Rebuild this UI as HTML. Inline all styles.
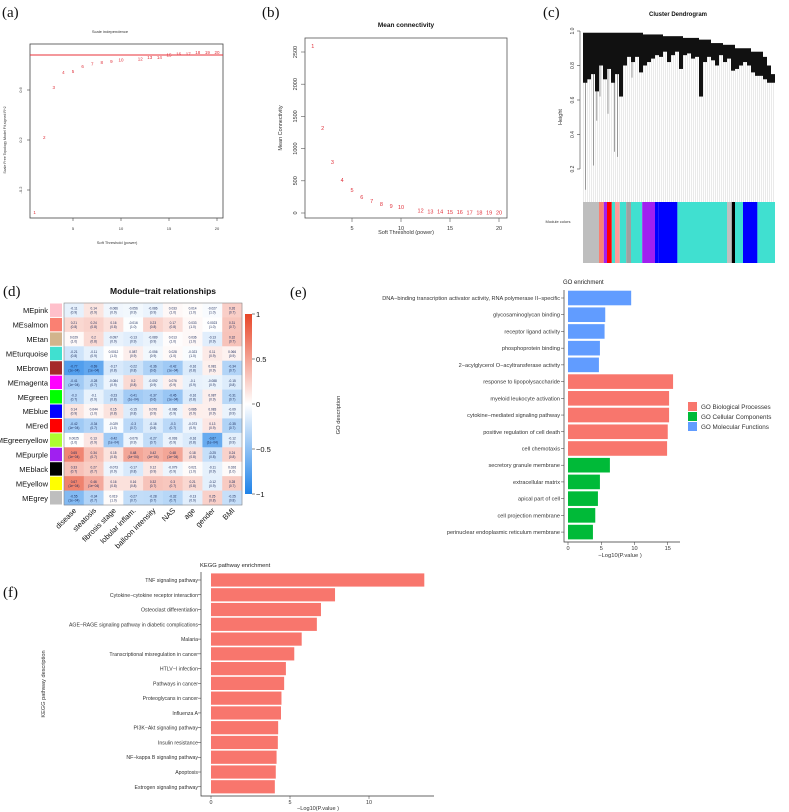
<!DOCTYPE html>
<html><head><meta charset="utf-8">
<style>
html,body{margin:0;padding:0;background:#fff;}
svg{display:block;font-family:"Liberation Sans",sans-serif;}
.lab{font-family:"Liberation Serif",serif;font-size:15px;fill:#111;}
</style></head>
<body>
<svg id="fig" width="789" height="812" viewBox="0 0 789 812" xmlns="http://www.w3.org/2000/svg">
<text class="lab" x="2" y="17">(a)</text>
<text class="lab" x="262" y="17">(b)</text>
<text class="lab" x="543" y="17">(c)</text>
<text class="lab" x="3" y="296">(d)</text>
<text class="lab" x="290" y="297">(e)</text>
<text class="lab" x="3" y="597">(f)</text>
</svg>
<script>
// ---------- data ----------
const aPowers=[1,2,3,4,5,6,7,8,9,10,12,13,14,15,16,17,18,19,20];
const aFit=[-0.38,0.22,0.62,0.74,0.75,0.79,0.81,0.82,0.83,0.84,0.85,0.86,0.86,0.88,0.89,0.89,0.90,0.90,0.90];
const aYTicks=[-0.2,0.2,0.6];
const aXTicks=[5,10,15,20];
const aCut=0.88;
const bPowers=[1,2,3,4,5,6,7,8,9,10,12,13,14,15,16,17,18,19,20];
const bConn=[2590,1320,790,510,355,250,185,140,110,90,35,25,20,15,12,10,8,6,5];
const bYTicks=[0,500,1000,1500,2000,2500];
const bXTicks=[5,10,15,20];
const cTops=[0.99,0.99,0.99,0.99,0.99,0.99,0.99,0.99,0.99,0.99,0.99,0.99,0.99,0.99,0.99,0.98,0.98,0.98,0.98,0.98,0.97,0.97,0.97,0.97,0.97,0.96,0.96,0.96,0.96,0.95,0.95,0.95,0.93,0.93,0.93,0.92,0.92,0.92,0.9,0.9,0.9,0.9,0.88,0.88,0.88,0.85,0.8,0.75];
const cBottoms=[0.7,0.72,0.75,0.65,0.8,0.72,0.78,0.7,0.75,0.62,0.8,0.85,0.82,0.85,0.76,0.8,0.82,0.84,0.86,0.85,0.88,0.82,0.86,0.88,0.78,0.86,0.87,0.84,0.85,0.62,0.82,0.85,0.83,0.8,0.86,0.82,0.84,0.77,0.78,0.8,0.82,0.8,0.76,0.74,0.74,0.72,0.7,0.7];
const cDrops=[0.08,0.7,0.22,0.48,0.62,0.3,0.27,0.52,0.73];
const cDropLeaf=[1,2,6,8,10,19,21,15,30];
const cYTicks=[0.2,0.4,0.6,0.8,1.0];
const cModStart=[0,10,13,15,18,20,23,27,30,37,45,47,59,90,93,95,100,109];
const cModColor=['#bebebe','#fa8072','#a020f0','#ff0000','#40e0d0','#ff9a9a','#40e0d0','#a0a0a0','#40e0d0','#a020f0','#0000ff','#0000ff','#40e0d0','#c0c0c0','#000000','#40e0d0','#0000ff','#40e0d0'];
const dModules=['MEpink','MEsalmon','MEtan','MEturquoise','MEbrown','MEmagenta','MEgreen','MEblue','MEred','MEgreenyellow','MEpurple','MEblack','MEyellow','MEgrey'];
const dModColors=['#ffc0cb','#fa8072','#d2b48c','#40e0d0','#a52a2a','#ff00ff','#00ff00','#0000ff','#ff0000','#adff2f','#a020f0','#000000','#ffff00','#bebebe'];
const dTraits=['disease','steatosis','fibrosis stage','lobular inflam.','balloon intensity','NAS','age','gender','BMI'];
const dCor=[
[-0.11,0.14,-0.066,-0.056,-0.086,0.033,0.014,-0.027,0.26],
[0.21,0.24,0.16,-0.016,0.23,0.17,0.033,0.0023,0.31],
[0.029,0.2,-0.097,-0.13,-0.089,0.013,0.036,-0.13,0.32],
[-0.21,-0.11,0.0012,0.087,-0.056,0.028,-0.023,0.11,0.066],
[-0.77,-0.69,-0.17,-0.22,-0.36,-0.42,-0.16,0.081,-0.34],
[-0.41,-0.28,-0.084,0.2,-0.092,0.076,-0.1,-0.088,-0.15],
[-0.3,-0.1,-0.23,-0.41,-0.37,-0.45,-0.16,0.087,-0.31],
[0.14,0.044,0.15,-0.15,0.076,-0.086,0.086,0.083,-0.09],
[-0.42,-0.34,-0.029,-0.3,-0.16,-0.3,-0.073,0.13,-0.35],
[0.0025,0.13,-0.42,-0.076,-0.27,-0.093,-0.16,-0.67,-0.12],
[0.65,0.34,0.15,0.48,0.42,0.48,0.18,-0.25,0.24],
[0.33,0.27,-0.073,-0.17,0.12,-0.079,0.021,-0.11,0.026],
[0.67,0.46,0.16,0.16,0.32,0.3,0.21,-0.12,0.28],
[-0.55,-0.34,0.019,-0.27,-0.28,-0.32,-0.13,0.25,-0.25]];
const dScaleTicks=[1,0.5,0,-0.5,-1];
const eTerms=['DNA\u2212binding transcription activator activity, RNA polymerase II\u2212specific','glycosaminoglycan binding','receptor ligand activity','phosphoprotein binding','2\u2212acylglycerol O\u2212acyltransferase activity','response to lipopolysaccharide','myeloid leukocyte activation','cytokine\u2212mediated signaling pathway','positive regulation of cell death','cell chemotaxis','secretory granule membrane','extracellular matrix','apical part of cell','cell projection membrane','perinuclear endoplasmic reticulum membrane'];
const eVals=[9.5,5.6,5.5,4.8,4.65,15.8,15.2,15.2,15.0,14.9,6.3,4.8,4.5,4.1,3.75];
const eCats=['MF','MF','MF','MF','MF','BP','BP','BP','BP','BP','CC','CC','CC','CC','CC'];
const eXTicks=[0,5,10,15];
const fTerms=['TNF signaling pathway','Cytokine\u2212cytokine receptor interaction','Osteoclast differentiation','AGE\u2212RAGE signaling pathway in diabetic complications','Malaria','Transcriptional misregulation in cancer','HTLV\u2212I infection','Pathways in cancer','Proteoglycans in cancer','Influenza A','PI3K\u2212Akt signaling pathway','Insulin resistance','NF\u2212kappa B signaling pathway','Apoptosis','Estrogen signaling pathway'];
const fVals=[13.5,7.85,6.96,6.7,5.74,5.27,4.74,4.63,4.46,4.43,4.25,4.23,4.15,4.1,4.04];
const fXTicks=[0,5,10];

// ---------- helpers ----------
const NS='http://www.w3.org/2000/svg';
const svg=document.getElementById('fig');
function mk(tag,attrs,parent){const e=document.createElementNS(NS,tag);for(const k in attrs)e.setAttribute(k,attrs[k]);(parent||svg).appendChild(e);return e;}
function txt(s,attrs,parent){const e=mk('text',attrs,parent);e.textContent=s;return e;}
function grp(){return mk('g',{});}

// ---------- panel a ----------
(function(){
const g=grp();


const X=v=>25+9.6*v, Y=v=>90-(v-0.6)/0.008;
let t=txt('Scale independence',{x:110,y:33,'font-size':4,'text-anchor':'middle',fill:'#333'},g);


let r=mk('rect',{x:30,y:44,width:193,height:174,fill:'none',stroke:'#444','stroke-width':0.8},g);


let l=mk('line',{x1:30,x2:223,y1:Y(aCut),y2:Y(aCut),stroke:'#e8303a','stroke-width':0.9},g);


aYTicks.forEach(v=>{const tk=mk('line',{x1:27,x2:30,y1:Y(v),y2:Y(v),stroke:'#444','stroke-width':0.6},g);


const tl=txt(String(v),{x:22,y:Y(v),'font-size':4,'text-anchor':'middle',fill:'#333',transform:`rotate(-90 22 ${Y(v)})`},g);

});
aXTicks.forEach(v=>{const tk=mk('line',{x1:X(v),x2:X(v),y1:218,y2:221,stroke:'#444','stroke-width':0.6},g);


const tl=txt(String(v),{x:X(v),y:230,'font-size':4,'text-anchor':'middle',fill:'#333'},g);

});
aPowers.forEach((p,i)=>{const pt=txt(String(p),{x:X(p),y:Y(aFit[i])+1.5,'font-size':4.5,'text-anchor':'middle',fill:'#e0303a'},g);

});
t=txt('Soft Threshold (power)',{x:117,y:244,'font-size':4,'text-anchor':'middle',fill:'#333'},g);


t=txt('Scale Free Topology Model Fit,signed R^2',{x:6,y:140,'font-size':3.6,'text-anchor':'middle',fill:'#333',transform:'rotate(-90 6 140)'},g);


})();

// ---------- panel b ----------
(function(){
const g=grp();


const X=v=>303+9.8*v, Y=v=>213-v*0.0644;
let t=txt('Mean connectivity',{x:406,y:27,'font-size':6.5,'font-weight':'bold','text-anchor':'middle',fill:'#111'},g);


let r=mk('rect',{x:305,y:38,width:202,height:180,fill:'none',stroke:'#555','stroke-width':0.8},g);


bYTicks.forEach(v=>{const tk=mk('line',{x1:301,x2:305,y1:Y(v),y2:Y(v),stroke:'#555','stroke-width':0.6},g);


const tl=txt(String(v),{x:297,y:Y(v),'font-size':5.5,'text-anchor':'middle',fill:'#333',transform:`rotate(-90 297 ${Y(v)})`},g);

});
bXTicks.forEach(v=>{const tk=mk('line',{x1:X(v),x2:X(v),y1:218,y2:222,stroke:'#555','stroke-width':0.6},g);


const tl=txt(String(v),{x:X(v),y:230,'font-size':5.5,'text-anchor':'middle',fill:'#333'},g);

});
bPowers.forEach((p,i)=>{const pt=txt(String(p),{x:X(p),y:Y(bConn[i])+2,'font-size':5.5,'text-anchor':'middle',fill:'#e0303a'},g);

});
t=txt('Soft Threshold (power)',{x:406,y:234,'font-size':5.5,'text-anchor':'middle',fill:'#333'},g);


t=txt('Mean Connectivity',{x:282,y:128,'font-size':5.5,'text-anchor':'middle',fill:'#333',transform:'rotate(-90 282 128)'},g);


})();

// ---------- panel c ----------
(function(){
const g=grp();


const Y=h=>31+(1-h)*172.5, L=583, W=4;
let t=txt('Cluster Dendrogram',{x:678,y:16,'font-size':6,'font-weight':'bold','text-anchor':'middle',fill:'#111'},g);


for(let i=0;i<cTops.length;i++){[0.5,2.5].forEach(o=>{const ln=mk('line',{x1:L+i*W+o,x2:L+i*W+o,y1:Y(cBottoms[i]),y2:Y(0),stroke:'#d4d4d4','stroke-width':0.5},g);

});}
cDrops.forEach((h,i)=>{const x=L+cDropLeaf[i]*W/2.5+1;const ln=mk('line',{x1:x,x2:x,y1:Y(0.85),y2:Y(h),stroke:'#777','stroke-width':0.7},g);

});
cTops.forEach((h,i)=>{const rr=mk('rect',{x:L+i*W,y:Y(h),width:W,height:Y(cBottoms[i])-Y(h),fill:'#111'},g);

});
let ax=mk('line',{x1:580,x2:580,y1:Y(1),y2:Y(0.2),stroke:'#444','stroke-width':0.6},g);


cYTicks.forEach(v=>{const tk=mk('line',{x1:577,x2:580,y1:Y(v),y2:Y(v),stroke:'#444','stroke-width':0.6},g);


const tl=txt(v.toFixed(1),{x:574,y:Y(v),'font-size':5,'text-anchor':'middle',fill:'#333',transform:`rotate(-90 574 ${Y(v)})`},g);

});
t=txt('Height',{x:562,y:117,'font-size':5.5,'text-anchor':'middle',fill:'#333',transform:'rotate(-90 562 117)'},g);


const total=192;
cModStart.forEach((s,i)=>{const e=i<cModStart.length-1?cModStart[i+1]:120;const rr=mk('rect',{x:L+s*total/120,y:202,width:(e-s)*total/120,height:61,fill:cModColor[i]},g);

});
t=txt('Module colors',{x:558,y:223,'font-size':4,'text-anchor':'middle',fill:'#333'},g);


})();

// ---------- panel d ----------
(function(){
const g=grp();


const x0=64,y0=303,cw=(242-64)/dTraits.length,ch=(505-303)/dModules.length;
function col(v){const c=Math.max(-1,Math.min(1,v));let r,gg,b;if(c>=0){r=255+(232-255)*c;gg=255+(70-255)*c;b=255+(40-255)*c;}else{const a=-c;r=255+(30-255)*a;gg=255+(130-255)*a;b=255+(232-255)*a;}return `rgb(${r|0},${gg|0},${b|0})`;}
let t=txt('Module\u2212trait relationships',{x:163,y:294,'font-size':8.5,'font-weight':'bold','text-anchor':'middle',fill:'#111'},g);


dModules.forEach((m,i)=>{
const y=y0+i*ch;
const sw=mk('rect',{x:50,y:y+0.5,width:12,height:ch-1,fill:dModColors[i]},g);


const lb=txt(m,{x:48,y:y+ch/2+3,'font-size':7.5,'text-anchor':'end',fill:'#111'},g);


dTraits.forEach((tr,j)=>{const v=dCor[i][j];
const c=mk('rect',{x:x0+j*cw,y:y,width:cw+0.3,height:ch+0.3,fill:col(v)},g);


const tv=txt(String(v),{x:x0+j*cw+cw/2,y:y+ch/2-0.5,'font-size':3.2,'text-anchor':'middle',fill:'#1a2a5a'},g);


const tp=txt('('+(Math.abs(v)>0.4?'1e\u221204':(1-Math.abs(v)).toFixed(1))+')',{x:x0+j*cw+cw/2,y:y+ch/2+3.5,'font-size':3.2,'text-anchor':'middle',fill:'#1a2a5a'},g);

});});
let br=mk('rect',{x:x0,y:y0,width:178,height:202,fill:'none',stroke:'#888','stroke-width':0.6},g);


dTraits.forEach((tr,j)=>{const x=x0+j*cw+cw/2+3;const tl=txt(tr,{x:x,y:511,'font-size':7.5,'text-anchor':'end',fill:'#111',transform:`rotate(-45 ${x} 511)`},g);

});
const SY=v=>404-v*90;
const defs=mk('defs',{},g);
const lg=mk('linearGradient',{id:'cbar',x1:0,y1:0,x2:0,y2:1},defs);
[[0,col(1)],[0.5,col(0)],[1,col(-1)]].forEach(s=>mk('stop',{offset:s[0],'stop-color':s[1]},lg));
let cb=mk('rect',{x:245,y:SY(1),width:7,height:SY(-1)-SY(1),fill:'url(#cbar)'},g);


dScaleTicks.forEach(v=>{const tk=mk('line',{x1:252,x2:255,y1:SY(v),y2:SY(v),stroke:'#333','stroke-width':0.6},g);


const tl=txt(v<0?'\u2212'+Math.abs(v):String(v),{x:256,y:SY(v)+3,'font-size':7.5,fill:'#111'},g);

});
})();

// ---------- panel e ----------
(function(){
const g=grp();


const X=v=>568+6.65*v, Y=i=>298+i*16.72, catColor={BP:'#F8766D',CC:'#00BA38',MF:'#619CFF'};
let t=txt('GO enrichment',{x:563,y:284,'font-size':6,fill:'#222'},g);


eTerms.forEach((s,i)=>{const b=mk('rect',{x:X(0),y:Y(i)-7.3,width:X(eVals[i])-X(0),height:14.6,fill:catColor[eCats[i]]},g);


const tk=mk('line',{x1:561,x2:564,y1:Y(i),y2:Y(i),stroke:'#333','stroke-width':0.5},g);


const lb=txt(s,{x:560,y:Y(i)+2,'font-size':5.6,'text-anchor':'end',fill:'#333'},g);

});
let ax=mk('path',{d:'M564 290 V542 H680',fill:'none',stroke:'#333','stroke-width':0.7},g);


eXTicks.forEach(v=>{const tk=mk('line',{x1:X(v),x2:X(v),y1:542,y2:545,stroke:'#333','stroke-width':0.5},g);


const tl=txt(String(v),{x:X(v),y:550,'font-size':5.6,'text-anchor':'middle',fill:'#333'},g);

});
t=txt('\u2212Log10(P.value )',{x:620,y:557,'font-size':5.8,'text-anchor':'middle',fill:'#333'},g);


t=txt('GO description',{x:340,y:415,'font-size':5.8,'text-anchor':'middle',fill:'#333',transform:'rotate(-90 340 415)'},g);


[['GO Biological Processes','#F8766D'],['GO Cellular Components','#00BA38'],['GO Molecular Functions','#619CFF']].forEach((e,i)=>{
const sq=mk('rect',{x:688,y:402+i*10,width:9,height:9,fill:e[1]},g);


const lt=txt(e[0],{x:701,y:409+i*10,'font-size':6.3,fill:'#333'},g);

});
})();

// ---------- panel f ----------
(function(){
const g=grp();


const X=v=>211+15.8*v, Y=i=>580+i*14.77;
let t=txt('KEGG pathway enrichment',{x:200,y:567,'font-size':5.8,fill:'#222'},g);


fTerms.forEach((s,i)=>{const b=mk('rect',{x:X(0),y:Y(i)-6.6,width:X(fVals[i])-X(0),height:13.2,fill:'#F8766D'},g);


const tk=mk('line',{x1:198,x2:201,y1:Y(i),y2:Y(i),stroke:'#333','stroke-width':0.5},g);


const lb=txt(s,{x:198,y:Y(i)+2,'font-size':5.2,'text-anchor':'end',fill:'#333'},g);

});
let ax=mk('path',{d:'M201 572 V796 H434',fill:'none',stroke:'#333','stroke-width':0.7},g);


fXTicks.forEach(v=>{const tk=mk('line',{x1:X(v),x2:X(v),y1:796,y2:799,stroke:'#333','stroke-width':0.5},g);


const tl=txt(String(v),{x:X(v),y:804,'font-size':5.4,'text-anchor':'middle',fill:'#333'},g);

});
t=txt('\u2212Log10(P.value )',{x:318,y:810,'font-size':5.6,'text-anchor':'middle',fill:'#333'},g);


t=txt('KEGG pathway description',{x:45,y:684,'font-size':5.6,'text-anchor':'middle',fill:'#333',transform:'rotate(-90 45 684)'},g);


})();
</script>
</body></html>
